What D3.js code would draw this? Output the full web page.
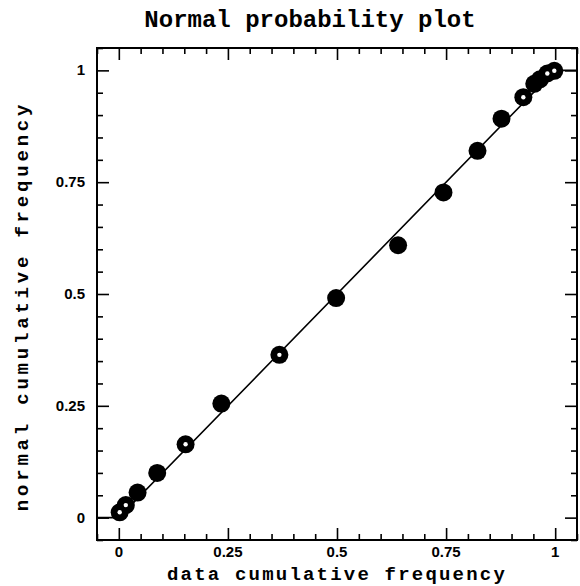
<!DOCTYPE html>
<html>
<head>
<meta charset="utf-8">
<script src="https://cdn.jsdelivr.net/npm/d3@7"></script>
<style>
  body { margin: 0; background: #fff; }
  svg { display: block; }
</style>
</head>
<body>
<svg width="580" height="586"></svg>
<script>
// Data set
var majorTicks = [0, 0.25, 0.5, 0.75, 1];
var majorLabels = ["0", "0.25", "0.5", "0.75", "1"];

// filled markers
var solidX = [0.043, 0.088, 0.235, 0.498, 0.640, 0.744, 0.822, 0.877, 0.952, 0.965];
var solidY = [0.056, 0.100, 0.255, 0.491, 0.609, 0.727, 0.820, 0.892, 0.970, 0.980];
// markers with a white speck in the middle
var ringX = [0.002, 0.016, 0.153, 0.368, 0.927, 0.982, 0.998];
var ringY = [0.012, 0.028, 0.164, 0.364, 0.940, 0.993, 0.999];

// reference line (flat ends, diagonal in between)
var refLine = [[-0.05, 0], [0, 0], [1, 1], [1.05, 1]];

var svg = d3.select("svg");

var xScale = d3.scaleLinear().domain([-0.05, 1.05]).range([97, 577]);
var yScale = d3.scaleLinear().domain([-0.05, 1.05]).range([540, 48]);

var minorTicks = d3.range(-0.05, 1.051, 0.05).filter(function(t) {
	return Math.abs(t * 4 - Math.round(t * 4)) > 1e-6;
});

function tickAxis(axis, size, vals) {
	return axis.tickValues(vals).tickSize(size).tickSizeOuter(0).tickFormat("");
}

var axes = [
	{ fn: d3.axisBottom, scale: xScale, tr: "translate(0,540)" },
	{ fn: d3.axisTop, scale: xScale, tr: "translate(0,48)" },
	{ fn: d3.axisLeft, scale: yScale, tr: "translate(97,0)" },
	{ fn: d3.axisRight, scale: yScale, tr: "translate(577,0)" }
];
axes.forEach(function(a) {
	// negative tick size -> ticks point into the plot
	var g1 = svg.append("g").attr("transform", a.tr).call(tickAxis(a.fn(a.scale), -12, majorTicks));
	var g2 = svg.append("g").attr("transform", a.tr).call(tickAxis(a.fn(a.scale), -6, minorTicks));
	[g1, g2].forEach(function(g) {
		g.select(".domain").remove();
		g.selectAll("line").attr("stroke", "#000").attr("stroke-width", 1.6);
	});
});

// frame
svg.append("rect")
	.attr("x", 97).attr("y", 48)
	.attr("width", 480).attr("height", 492)
	.attr("fill", "none").attr("stroke", "#000").attr("stroke-width", 2);

// tick labels
svg.selectAll(".xlab").data(majorTicks).enter().append("text")
	.attr("x", function(d) { return xScale(d); })
	.attr("y", 557)
	.attr("text-anchor", "middle")
	.attr("font-family", "Liberation Sans, Arial, sans-serif")
	.attr("font-weight", "bold")
	.attr("font-size", "15px")
	.text(function(d, i) { return majorLabels[i]; });

svg.selectAll(".ylab").data(majorTicks).enter().append("text")
	.attr("x", 85)
	.attr("y", function(d) { return yScale(d) + 5; })
	.attr("text-anchor", "end")
	.attr("font-family", "Liberation Sans, Arial, sans-serif")
	.attr("font-weight", "bold")
	.attr("font-size", "15px")
	.text(function(d, i) { return majorLabels[i]; });

// reference line
svg.append("path")
	.datum(refLine)
	.attr("fill", "none")
	.attr("stroke", "#000")
	.attr("stroke-width", 1.6)
	.attr("d", d3.line()
		.x(function(d) { return xScale(d[0]); })
		.y(function(d) { return yScale(d[1]); }));

// markers
svg.selectAll(".solid").data(solidX).enter().append("circle")
	.attr("cx", function(d) { return xScale(d); })
	.attr("cy", function(d, i) { return yScale(solidY[i]); })
	.attr("r", 9)
	.attr("fill", "#000");

svg.selectAll(".ring").data(ringX).enter().append("circle")
	.attr("cx", function(d) { return xScale(d); })
	.attr("cy", function(d, i) { return yScale(ringY[i]); })
	.attr("r", 9)
	.attr("fill", "#000");

svg.selectAll(".speck").data(ringX).enter().append("circle")
	.attr("cx", function(d) { return xScale(d); })
	.attr("cy", function(d, i) { return yScale(ringY[i]); })
	.attr("r", 2.2)
	.attr("fill", "#fff");

// titles
svg.append("text")
	.attr("x", 310).attr("y", 27)
	.attr("text-anchor", "middle")
	.attr("font-family", "Liberation Mono, Courier New, monospace")
	.attr("font-weight", "bold")
	.attr("font-size", "24px")
	.text("Normal probability plot");

svg.append("text")
	.attr("x", 337).attr("y", 580)
	.attr("text-anchor", "middle")
	.attr("font-family", "Liberation Mono, Courier New, monospace")
	.attr("font-weight", "bold")
	.attr("font-size", "19px")
	.attr("letter-spacing", "2.2px")
	.text("data cumulative frequency");

svg.append("text")
	.attr("transform", "translate(28,306) rotate(-90)")
	.attr("text-anchor", "middle")
	.attr("font-family", "Liberation Mono, Courier New, monospace")
	.attr("font-weight", "bold")
	.attr("font-size", "19px")
	.attr("letter-spacing", "3.8px")
	.text("normal cumulative frequency");
</script>
</body>
</html>
